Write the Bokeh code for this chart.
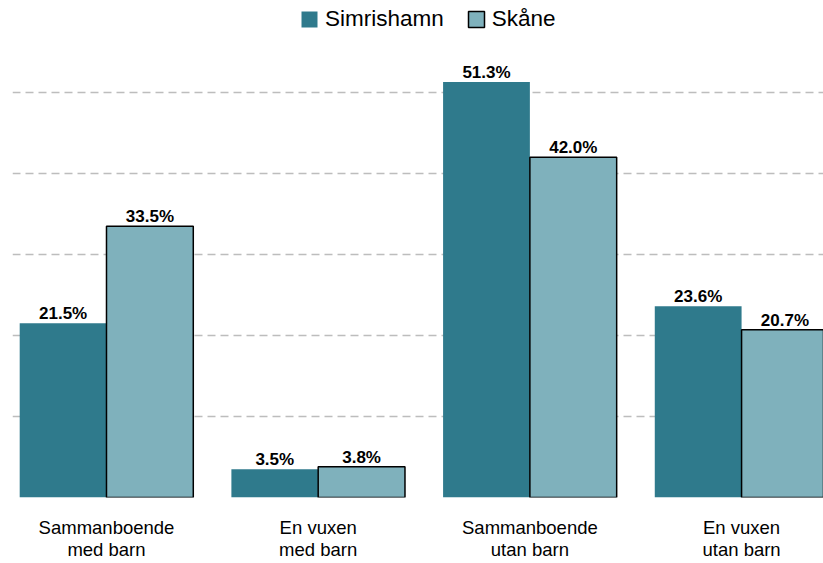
from bokeh.plotting import figure
from bokeh.models import ColumnDataSource, Range1d, FixedTicker, Legend, LegendItem
from bokeh.transform import dodge
from bokeh.core.properties import value
from bokeh.embed import file_html
from bokeh.resources import INLINE

categories = ["Sammanboende\nmed barn", "En vuxen\nmed barn", "Sammanboende\nutan barn", "En vuxen\nutan barn"]
simrishamn = [21.5, 3.5, 51.3, 23.6]
skane = [33.5, 3.8, 42.0, 20.7]
grid_ticks = [0, 10, 20, 30, 40, 50]

DARK = "#2f7a8c"
LIGHT = "#7fb1bc"
FONT = "Liberation Sans"

src = ColumnDataSource(dict(
    x=list(range(len(categories))),
    sim=simrishamn,
    ska=skane,
    sim_lbl=[f"{v:.1f}%" for v in simrishamn],
    ska_lbl=[f"{v:.1f}%" for v in skane],
))

p = figure(width=823, height=563, output_backend="svg", toolbar_location=None,
           x_range=Range1d(-0.444, 3.387), y_range=Range1d(0, 61.36),
           min_border_left=12, min_border_right=0, min_border_top=0, min_border_bottom=66)

r1 = p.vbar(x=dodge("x", -0.205, range=p.x_range), top="sim", width=0.41, source=src,
            fill_color=DARK, line_color=None)
r2 = p.vbar(x=dodge("x", 0.205, range=p.x_range), top="ska", width=0.41, source=src,
            fill_color=LIGHT, line_color="black", line_width=1.5)

for col, lbl, off in (("sim", "sim_lbl", -0.205), ("ska", "ska_lbl", 0.205)):
    p.text(x=dodge("x", off, range=p.x_range), y=col, text=lbl, source=src,
           text_align="center", text_baseline="bottom", y_offset=0,
           text_font=value(FONT), text_font_style="bold", text_font_size="17px",
           text_color="black")

p.outline_line_color = None
p.background_fill_color = "white"
p.border_fill_color = "white"

p.yaxis.visible = False
p.xgrid.visible = False
p.ygrid.ticker = FixedTicker(ticks=grid_ticks)
p.ygrid.grid_line_color = "#bdbdbd"
p.ygrid.grid_line_dash = "8 5"
p.ygrid.grid_line_width = 1.5

xa = p.xaxis[0]
xa.ticker = FixedTicker(ticks=list(range(len(categories))))
xa.major_label_overrides = {i: c for i, c in enumerate(categories)}
xa.axis_line_color = None
xa.major_tick_line_color = None
xa.minor_tick_line_color = None
xa.major_tick_out = 0
xa.major_tick_in = 0
xa.major_label_standoff = 19
xa.major_label_text_font = FONT
xa.major_label_text_font_size = "18.5px"
xa.major_label_text_line_height = 1.05
xa.major_label_text_color = "black"

legend = Legend(items=[LegendItem(label="Simrishamn", renderers=[r1]),
                       LegendItem(label="Skåne", renderers=[r2])],
                orientation="horizontal", location=(287, 465),
                margin=0, padding=0, spacing=22,
                glyph_width=20, glyph_height=20, label_standoff=6,
                label_text_font=FONT, label_text_font_size="22.5px",
                label_text_color="black",
                border_line_color=None, background_fill_alpha=0)
p.add_layout(legend)

open("out.html", "w").write(file_html(p, INLINE))
